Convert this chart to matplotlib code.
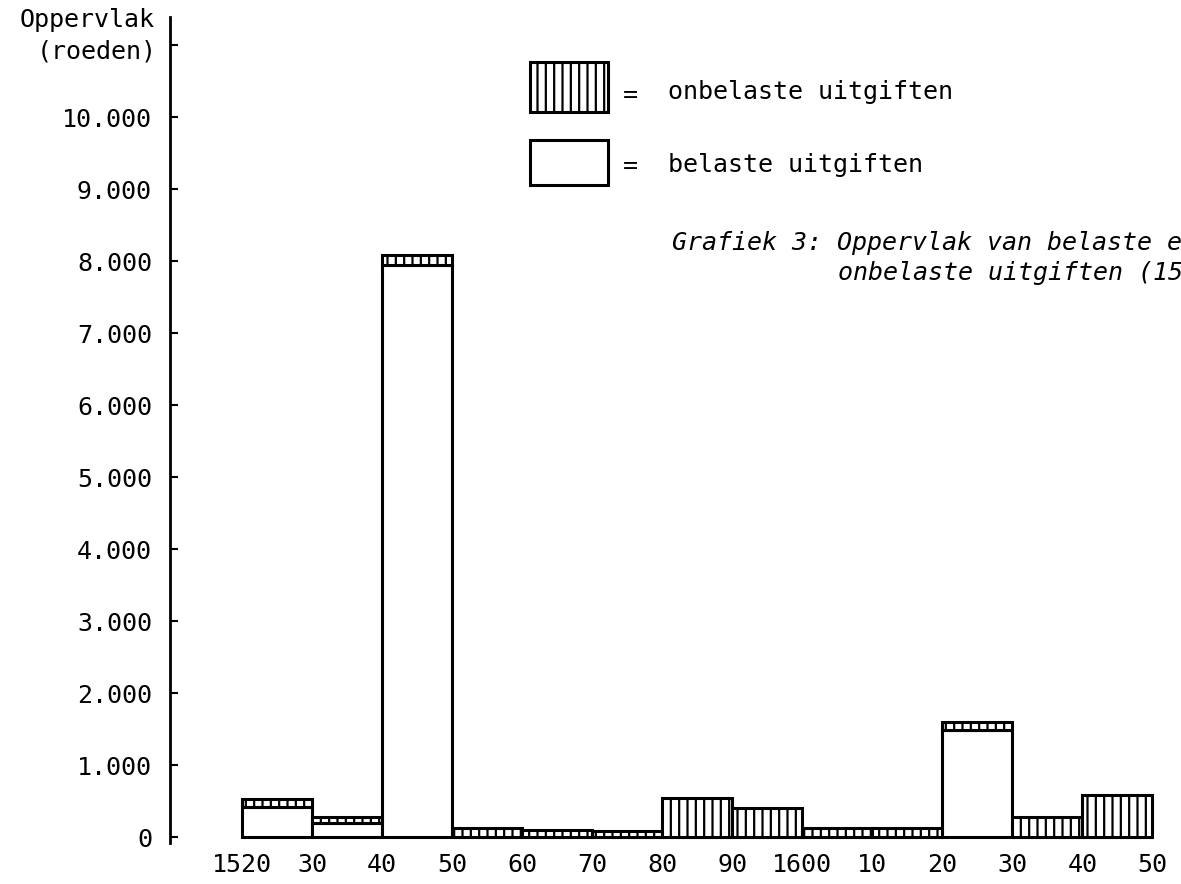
import matplotlib.pyplot as plt
from matplotlib.patches import Rectangle

# decades (left edge of each bar)
decades = [1520, 1530, 1540, 1550, 1560, 1570, 1580, 1590, 1600, 1610, 1620, 1630, 1640]
# oppervlak in roeden
belaste = [420, 200, 7940, 0, 0, 0, 0, 0, 0, 0, 1490, 0, 0]
onbelaste = [110, 80, 140, 120, 100, 80, 540, 400, 125, 120, 110, 280, 580]

xticks = [1520, 1530, 1540, 1550, 1560, 1570, 1580, 1590, 1600, 1610, 1620, 1630, 1640, 1650]
xlabels = ['1520', '30', '40', '50', '60', '70', '80', '90', '1600', '10', '20', '30', '40', '50']
yticks = [0, 1000, 2000, 3000, 4000, 5000, 6000, 7000, 8000, 9000, 10000, 11000]
ylabels = ['0', '1.000', '2.000', '3.000', '4.000', '5.000', '6.000', '7.000',
           '8.000', '9.000', '10.000', '']

mono = 'DejaVu Sans Mono'
fs = 18
plt.rcParams['hatch.linewidth'] = 1.6

fig = plt.figure(figsize=(11.81, 8.84), dpi=100)
ax = fig.add_axes([170 / 1181, 41 / 884, 1 - 170 / 1181, (843 - 17) / 884])

ax.bar(decades, belaste, width=10, align='edge', color='white',
       edgecolor='black', linewidth=2.2)
ax.bar(decades, onbelaste, width=10, align='edge', bottom=belaste, color='white',
       edgecolor='black', linewidth=2.2, hatch='||')

ax.set_xlim(1509.7, 1654.1)
ax.set_ylim(-83, 11390)

ax.set_xticks(xticks)
ax.set_xticklabels(xlabels, fontfamily=mono, fontsize=fs)
ax.set_yticks(yticks)
ax.set_yticklabels(ylabels, fontfamily=mono, fontsize=fs)
ax.tick_params(axis='x', length=0, pad=7)
ax.tick_params(axis='y', direction='in', length=6, width=1.5, pad=13)

for s in ['top', 'right', 'bottom']:
    ax.spines[s].set_visible(False)
ax.spines['left'].set_linewidth(2)

# axis title
fig.text(155 / 1181, 1 - 20 / 884, 'Oppervlak', fontfamily=mono, fontsize=fs,
         ha='right', va='center')
fig.text(157 / 1181, 1 - 52 / 884, '(roeden)', fontfamily=mono, fontsize=fs,
         ha='right', va='center')

# legend drawn by hand
fig.patches.append(Rectangle((530 / 1181, 1 - 112 / 884), 78 / 1181, 50 / 884,
                             transform=fig.transFigure, facecolor='white',
                             edgecolor='black', linewidth=2.2, hatch='||'))
fig.patches.append(Rectangle((530 / 1181, 1 - 185 / 884), 78 / 1181, 45 / 884,
                             transform=fig.transFigure, facecolor='white',
                             edgecolor='black', linewidth=2.2))
fig.text(630 / 1181, 1 - 95 / 884, '=', fontfamily=mono, fontsize=fs, ha='center', va='center')
fig.text(630 / 1181, 1 - 166 / 884, '=', fontfamily=mono, fontsize=fs, ha='center', va='center')
fig.text(668 / 1181, 1 - 92 / 884, 'onbelaste uitgiften', fontfamily=mono, fontsize=fs,
         ha='left', va='center')
fig.text(668 / 1181, 1 - 165 / 884, 'belaste uitgiften', fontfamily=mono, fontsize=fs,
         ha='left', va='center')

# caption (runs off the right edge, as in the scan)
fig.text(672 / 1181, 1 - 243 / 884, 'Grafiek 3: Oppervlak van belaste en',
         fontfamily=mono, fontstyle='italic', fontsize=fs, ha='left', va='center')
fig.text(838 / 1181, 1 - 273 / 884, 'onbelaste uitgiften (1520-1650)',
         fontfamily=mono, fontstyle='italic', fontsize=fs, ha='left', va='center')

fig.savefig('out.png', dpi=100)
